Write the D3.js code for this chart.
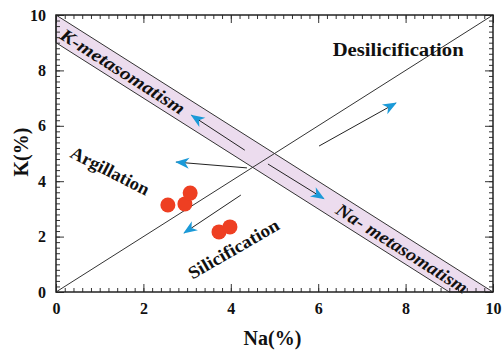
<!DOCTYPE html>
<html>
<head>
<meta charset="utf-8">
<script src="https://cdn.jsdelivr.net/npm/d3@7"></script>
<style>
  html, body { margin: 0; padding: 0; background: #fff; }
  svg { display: block; }
  text { font-family: "Liberation Serif", "Times New Roman", serif !important; font-weight: bold; fill: #111; }
</style>
</head>
<body>
<svg id="chart" width="504" height="352"></svg>
<script>
// Sample compositions (wt%)
const naValues = [2.56, 2.95, 3.07, 3.73, 3.98];
const kValues  = [3.14, 3.18, 3.57, 2.17, 2.35];

// Axis ticks
const majorTicks = [0, 2, 4, 6, 8, 10];
const minorTicks = d3.range(0, 10.001, 0.2).map(v => +v.toFixed(1));

// Metasomatism band: between K = 10 - Na and K = 9 - Na
const bandNa = [0, 10, 9, 0];
const bandK  = [10, 0, 0, 9];

// Alteration trend arrows: from (Na, K) to (Na, K)
const arrowFromNa = [4.32, 4.85, 4.37, 6.02, 4.23];
const arrowFromK  = [5.12, 4.62, 4.48, 5.27, 3.50];
const arrowToNa   = [3.10, 6.13, 2.75, 7.78, 2.93];
const arrowToK    = [6.38, 3.37, 4.69, 6.82, 2.13];

// Field names and where they sit (Na, K)
const labelText = ["Desilicification", "K-metasomatism", "Na- metasomatism", "Argillation", "Silicification"];
const labelNa   = [7.83, 1.53, 7.92, 1.24, 4.06];
const labelK    = [8.74, 7.97, 1.58, 4.38, 1.56];

const svg = d3.select("#chart");
const plotLeft = 56, plotRight = 493, plotTop = 15, plotBottom = 292;

// Label layout: rotation (deg), drawn length (px), style
const labelLayout = [
  { rot: 0,    len: 131, size: 18, style: "normal" },
  { rot: 32.4, len: 144, size: 18, style: "italic" },
  { rot: 32.4, len: 152, size: 18, style: "italic" },
  { rot: 27,   len: 86,  size: 18, style: "normal" },
  { rot: -30,  len: 102, size: 18, style: "normal" }
];

const x = d3.scaleLinear().domain([0, 10]).range([plotLeft, plotRight]);
const y = d3.scaleLinear().domain([0, 10]).range([plotBottom, plotTop]);

const defs = svg.append("defs");
defs.append("marker")
  .attr("id", "head")
  .attr("markerUnits", "userSpaceOnUse")
  .attr("viewBox", "-14 -7 16 14")
  .attr("markerWidth", 16).attr("markerHeight", 14)
  .attr("refX", 0).attr("refY", 0)
  .attr("orient", "auto")
  .append("path")
  .attr("d", "M1,0 L-13,-5.5 L-9,0 L-13,5.5 Z")
  .attr("fill", "#1b9ad8");

// Band
svg.append("path")
  .datum(d3.zip(bandNa, bandK))
  .attr("d", d3.line().x(d => x(d[0])).y(d => y(d[1])).curve(d3.curveLinearClosed))
  .attr("fill", "#ecdcee")
  .attr("stroke", "#333")
  .attr("stroke-width", 1);

// Na = K line
svg.append("line")
  .attr("x1", x(0)).attr("y1", y(0))
  .attr("x2", x(10)).attr("y2", y(10))
  .attr("stroke", "#333").attr("stroke-width", 1);

// Arrows
svg.append("g").selectAll("line")
  .data(d3.range(arrowFromNa.length))
  .join("line")
  .attr("x1", i => x(arrowFromNa[i])).attr("y1", i => y(arrowFromK[i]))
  .attr("x2", i => x(arrowToNa[i])).attr("y2", i => y(arrowToK[i]))
  .attr("stroke", "#222").attr("stroke-width", 1)
  .attr("marker-end", "url(#head)");

// Samples
svg.append("g").selectAll("circle")
  .data(d3.zip(naValues, kValues))
  .join("circle")
  .attr("cx", d => x(d[0])).attr("cy", d => y(d[1]))
  .attr("r", 7.5)
  .attr("fill", "#ee3f22");

// Field labels
svg.append("g").selectAll("text")
  .data(d3.range(labelText.length))
  .join("text")
  .attr("transform", i => `translate(${x(labelNa[i])},${y(labelK[i])}) rotate(${labelLayout[i].rot})`)
  .attr("text-anchor", "middle")
  .attr("dy", "0.35em")
  .attr("textLength", i => labelLayout[i].len)
  .attr("lengthAdjust", "spacingAndGlyphs")
  .style("font-size", i => labelLayout[i].size + "px")
  .style("font-style", i => labelLayout[i].style)
  .text(i => labelText[i]);

// Axes with inward ticks on all four sides
function drawAxis(axisFn, scale, translate, labels, padding) {
  const g = svg.append("g").attr("transform", translate);
  g.call(axisFn(scale).tickValues(minorTicks).tickSize(-4).tickFormat(""));
  g.select(".domain").remove();
  const m = svg.append("g").attr("transform", translate);
  m.call(axisFn(scale).tickValues(majorTicks).tickSize(-8).tickPadding(padding)
    .tickFormat(labels ? d3.format("d") : ""));
  m.select(".domain").remove();
  svg.selectAll(".tick line").attr("stroke", "#333");
  m.selectAll("text").style("font-size", "16px").attr("fill", "#111");
}
drawAxis(d3.axisBottom, x, `translate(0,${plotBottom})`, true, 11);
drawAxis(d3.axisLeft, y, `translate(${plotLeft},0)`, true, 10);
drawAxis(d3.axisTop, x, `translate(0,${plotTop})`, false, 4);
drawAxis(d3.axisRight, y, `translate(${plotRight},0)`, false, 4);

// Frame
svg.append("rect")
  .attr("x", plotLeft).attr("y", plotTop)
  .attr("width", plotRight - plotLeft).attr("height", plotBottom - plotTop)
  .attr("fill", "none").attr("stroke", "#222").attr("stroke-width", 1.5);

// Axis titles
svg.append("text")
  .attr("x", (plotLeft + plotRight) / 2 - 2).attr("y", 345)
  .attr("text-anchor", "middle")
  .style("font-size", "20px")
  .text("Na(%)");
svg.append("text")
  .attr("transform", `translate(28,152) rotate(-90)`)
  .attr("text-anchor", "middle")
  .style("font-size", "20px")
  .text("K(%)");
</script>
</body>
</html>
